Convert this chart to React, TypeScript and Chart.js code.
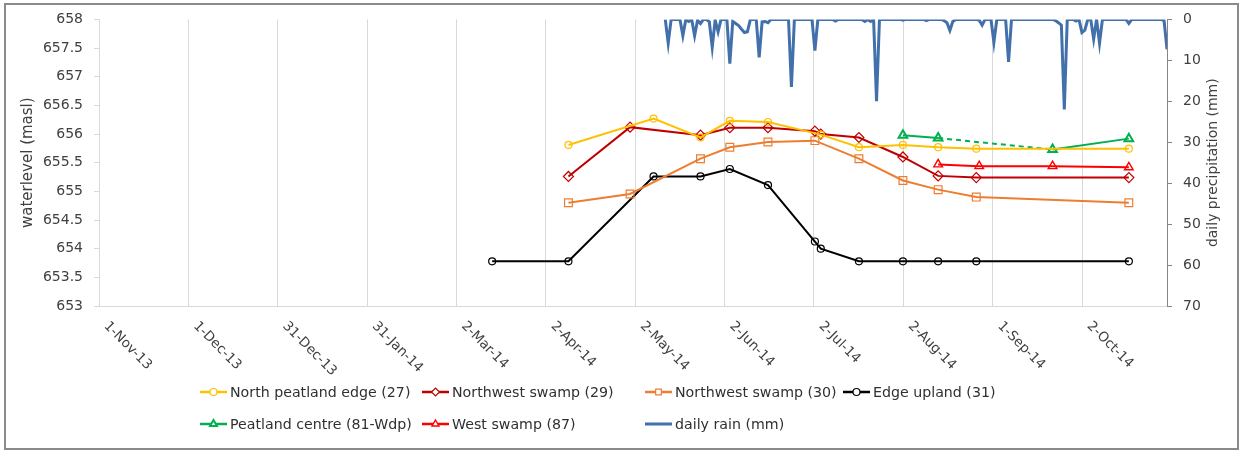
import { useEffect, useRef } from 'react';
import { Chart, registerables } from 'chart.js';

Chart.register(...registerables);

const FONT = '"DejaVu Sans", sans-serif';
const TEXT = '#404040';

// Date axis: positions are days counted from the first day shown.
const axisStart = '2013-11-01';
const axisEndDays = 364;
const majorUnitDays = 30.46;
const tickLabels = [
  '1-Nov-13', '1-Dec-13', '31-Dec-13', '31-Jan-14', '2-Mar-14', '2-Apr-14',
  '2-May-14', '2-Jun-14', '2-Jul-14', '2-Aug-14', '1-Sep-14', '2-Oct-14',
];

// Water levels (masl)
const northEdgeDates = ['2014-04-10', '2014-05-09', '2014-05-25', '2014-06-04', '2014-06-17', '2014-07-05', '2014-07-18', '2014-08-02', '2014-08-14', '2014-08-27', '2014-10-18'];
const northEdgeLevels = [655.81, 656.27, 655.94, 656.23, 656.21, 655.99, 655.77, 655.81, 655.77, 655.745, 655.745];

const nwSwamp29Dates = ['2014-04-10', '2014-05-01', '2014-05-25', '2014-06-04', '2014-06-17', '2014-07-03', '2014-07-05', '2014-07-18', '2014-08-02', '2014-08-14', '2014-08-27', '2014-10-18'];
const nwSwamp29Levels = [655.26, 656.12, 655.98, 656.11, 656.11, 656.05, 656.0, 655.94, 655.6, 655.27, 655.24, 655.24];

const nwSwamp30Dates = ['2014-04-10', '2014-05-01', '2014-05-25', '2014-06-04', '2014-06-17', '2014-07-03', '2014-07-18', '2014-08-02', '2014-08-14', '2014-08-27', '2014-10-18'];
const nwSwamp30Levels = [654.8, 654.955, 655.57, 655.77, 655.86, 655.885, 655.57, 655.19, 655.03, 654.9, 654.8];

const edgeUplandDates = ['2014-03-15', '2014-04-10', '2014-05-09', '2014-05-25', '2014-06-04', '2014-06-17', '2014-07-03', '2014-07-05', '2014-07-18', '2014-08-02', '2014-08-14', '2014-08-27', '2014-10-18'];
const edgeUplandLevels = [653.78, 653.78, 655.26, 655.26, 655.39, 655.11, 654.125, 654.0, 653.78, 653.78, 653.78, 653.78, 653.78];

const peatCentreDates = ['2014-08-02', '2014-08-14', '2014-09-22', '2014-10-18'];
const peatCentreLevels = [655.98, 655.93, 655.73, 655.92];

const westSwampDates = ['2014-08-14', '2014-08-28', '2014-09-22', '2014-10-18'];
const westSwampLevels = [655.47, 655.44, 655.44, 655.42];

// Daily precipitation (mm), one value per day from rainStart
const rainStart = '2014-05-13';
const dailyRain = [
  0, 5.8, 0, 0, 0, 0, 4.0, 0, 0.5, 0,
  4.0, 0.2, 1.0, 0, 0, 0.6, 6.8, 0.2, 3.0, 0,
  0, 0, 10.8, 0.5, 1.0, 1.5, 2.4, 3.2, 3.0, 0,
  0, 0, 9.3, 0.6, 0.5, 0.8, 0, 0, 0, 0,
  0, 0, 0, 16.5, 0, 0, 0, 0, 0, 0,
  0, 7.6, 0, 0, 0, 0, 0, 0, 0.4, 0,
  0, 0, 0, 0, 0, 0, 0, 0, 0.5, 0,
  0.5, 0, 20.0, 0, 0, 0, 0, 0, 0, 0,
  0, 0.2, 0, 0, 0, 0, 0, 0, 0, 0.3,
  0, 0, 0, 0, 0, 0.3, 0.8, 2.7, 0.5, 0,
  0, 0, 0, 0, 0, 0, 0, 0.2, 1.4, 0,
  0, 0, 5.6, 0, 0, 0, 0, 10.4, 0, 0,
  0, 0, 0, 0, 0, 0, 0, 0, 0, 0,
  0, 0, 0, 0.3, 0.8, 1.4, 22.0, 0, 0, 0,
  0.4, 0, 3.2, 2.6, 0, 0, 4.8, 0, 5.8, 0,
  0, 0, 0, 0, 0, 0, 0, 0, 1.0, 0,
  0, 0, 0, 0, 0, 0, 0, 0, 0, 0,
  0.3, 7.3,
];

const dayOf = (iso: string) => (Date.parse(iso) - Date.parse(axisStart)) / 86400000;
const toPoints = (dates: string[], values: number[]) =>
  dates.map((d, i) => ({ x: dayOf(d), y: values[i] }));

type Marker = 'circle' | 'rectRot' | 'rect' | 'triangle' | 'none';

interface SeriesStyle {
  label: string;
  color: string;
  marker: Marker;
  radius: number;
  markerWidth: number;
  lineWidth: number;
}

const waterSeries: { style: SeriesStyle; dates: string[]; values: number[] }[] = [
  { style: { label: 'North peatland edge (27)', color: '#FFC000', marker: 'circle', radius: 3.5, markerWidth: 1.2, lineWidth: 2 }, dates: northEdgeDates, values: northEdgeLevels },
  { style: { label: 'Northwest swamp (29)', color: '#C00000', marker: 'rectRot', radius: 5, markerWidth: 1.2, lineWidth: 2 }, dates: nwSwamp29Dates, values: nwSwamp29Levels },
  { style: { label: 'Northwest swamp (30)', color: '#ED7D31', marker: 'rect', radius: 5.5, markerWidth: 1.2, lineWidth: 2 }, dates: nwSwamp30Dates, values: nwSwamp30Levels },
  { style: { label: 'Edge upland (31)', color: '#000000', marker: 'circle', radius: 3.5, markerWidth: 1.2, lineWidth: 2 }, dates: edgeUplandDates, values: edgeUplandLevels },
  { style: { label: 'Peatland centre (81-Wdp)', color: '#00B050', marker: 'triangle', radius: 5, markerWidth: 2, lineWidth: 2 }, dates: peatCentreDates, values: peatCentreLevels },
  { style: { label: 'West swamp (87)', color: '#FF0000', marker: 'triangle', radius: 5, markerWidth: 1.4, lineWidth: 2 }, dates: westSwampDates, values: westSwampLevels },
];

const rainStyle: SeriesStyle = { label: 'daily rain (mm)', color: '#4170AB', marker: 'none', radius: 0, markerWidth: 0, lineWidth: 3 };

// legend grid: [column x, row y] for each entry
const legendSlots: [number, number][] = [
  [200, 392], [422, 392], [645, 392], [843, 392],
  [200, 424], [422, 424], [645, 424],
];

function drawMarker(ctx: CanvasRenderingContext2D, s: SeriesStyle, x: number, y: number, r: number) {
  if (s.marker === 'none') return;
  ctx.beginPath();
  if (s.marker === 'circle') {
    ctx.arc(x, y, r, 0, Math.PI * 2);
  } else if (s.marker === 'rectRot') {
    ctx.moveTo(x - r, y); ctx.lineTo(x, y - r); ctx.lineTo(x + r, y); ctx.lineTo(x, y + r);
    ctx.closePath();
  } else if (s.marker === 'rect') {
    const h = Math.SQRT1_2 * r;
    ctx.rect(x - h, y - h, 2 * h, 2 * h);
  } else if (s.marker === 'triangle') {
    ctx.moveTo(x, y - r);
    ctx.lineTo(x + 0.866 * r, y + 0.5 * r);
    ctx.lineTo(x - 0.866 * r, y + 0.5 * r);
    ctx.closePath();
  }
  ctx.fillStyle = '#ffffff';
  ctx.fill();
  ctx.lineWidth = s.markerWidth;
  ctx.strokeStyle = s.color;
  ctx.stroke();
}

const decorPlugin = {
  id: 'decor',
  afterDraw(chart: Chart) {
    const ctx = chart.ctx;
    const xs = chart.scales.x;
    const area = chart.chartArea;
    ctx.save();

    // outer frame
    ctx.strokeStyle = '#8a8a8a';
    ctx.lineWidth = 2;
    ctx.strokeRect(5, 4, 1233, 445);

    // date labels, slanted downwards
    ctx.fillStyle = TEXT;
    ctx.font = `13.5px ${FONT}`;
    ctx.textAlign = 'left';
    ctx.textBaseline = 'middle';
    tickLabels.forEach((lab, i) => {
      const px = xs.getPixelForValue(i * majorUnitDays);
      ctx.save();
      ctx.translate(px + 7, area.bottom + 18);
      ctx.rotate(Math.PI / 4);
      ctx.fillText(lab, 0, 0);
      ctx.restore();
    });

    // axis titles
    ctx.textAlign = 'center';
    const midY = (area.top + area.bottom) / 2;
    ctx.font = `15px ${FONT}`;
    ctx.save();
    ctx.translate(28, midY);
    ctx.rotate(-Math.PI / 2);
    ctx.fillText('waterlevel (masl)', 0, 0);
    ctx.restore();
    ctx.font = `14px ${FONT}`;
    ctx.save();
    ctx.translate(1213, midY);
    ctx.rotate(-Math.PI / 2);
    ctx.fillText('daily precipitation (mm)', 0, 0);
    ctx.restore();

    // legend
    const styles = [...waterSeries.map((s) => s.style), rainStyle];
    ctx.font = `14.2px ${FONT}`;
    ctx.textAlign = 'left';
    styles.forEach((s, i) => {
      const [lx, ly] = legendSlots[i];
      ctx.beginPath();
      ctx.moveTo(lx, ly);
      ctx.lineTo(lx + 27, ly);
      ctx.strokeStyle = s.color;
      ctx.lineWidth = s.marker === 'none' ? 3 : 2.5;
      ctx.setLineDash([]);
      ctx.stroke();
      drawMarker(ctx, s, lx + 13.5, ly, Math.min(s.radius, 4));
      ctx.fillStyle = '#303030';
      ctx.textBaseline = 'middle';
      ctx.fillText(s.label, lx + 30, ly + 1);
    });

    ctx.restore();
  },
};

export default function App() {
  const canvasRef = useRef<HTMLCanvasElement | null>(null);

  useEffect(() => {
    const canvas = canvasRef.current;
    if (!canvas) return;

    const waterSets = waterSeries.map((s, idx) => ({
      type: 'line' as const,
      label: s.style.label,
      data: toPoints(s.dates, s.values),
      yAxisID: 'y',
      borderColor: s.style.color,
      backgroundColor: 'rgba(255,255,255,0)',
      borderWidth: s.style.lineWidth,
      pointStyle: s.style.marker as any,
      pointRadius: s.style.radius,
      pointBorderWidth: s.style.markerWidth,
      pointBorderColor: s.style.color,
      pointBackgroundColor: 'rgba(255,255,255,0)',
      tension: 0,
      order: idx,
      segment: idx === 4
        ? { borderDash: (c: any) => (c.p0DataIndex === 1 ? [5, 4] : undefined) }
        : undefined,
    }));

    const rainSet = {
      type: 'line' as const,
      label: rainStyle.label,
      data: dailyRain.map((v, i) => ({ x: dayOf(rainStart) + i, y: v })),
      yAxisID: 'rain',
      borderColor: rainStyle.color,
      backgroundColor: rainStyle.color,
      borderWidth: rainStyle.lineWidth,
      pointRadius: 0,
      tension: 0,
      order: 10,
    };

    const chart = new Chart(canvas, {
      type: 'line',
      data: { datasets: [...waterSets, rainSet] as any },
      options: {
        responsive: false,
        animation: false,
        events: [],
        layout: { padding: { top: 17, left: 0, right: 0, bottom: 0 } },
        plugins: { legend: { display: false }, tooltip: { enabled: false } },
        scales: {
          x: {
            type: 'linear',
            min: 0,
            max: axisEndDays,
            afterBuildTicks: (s: any) => {
              s.ticks = tickLabels.map((_, i) => ({ value: i * majorUnitDays }));
            },
            ticks: { display: false },
            grid: { color: '#d9d9d9', lineWidth: 1, drawTicks: false },
            border: { color: '#d9d9d9' },
            afterFit: (s: any) => { s.height = 146; },
          },
          y: {
            position: 'left',
            min: 653,
            max: 658,
            ticks: {
              stepSize: 0.5,
              color: TEXT,
              padding: 11,
              font: { family: FONT, size: 14 },
              callback: (v: any) => String(Number(v)),
            },
            grid: { drawOnChartArea: false, tickLength: 5, color: '#d9d9d9' },
            border: { color: '#d9d9d9' },
            afterFit: (s: any) => { s.width = 99; },
          },
          rain: {
            position: 'right',
            reverse: true,
            min: 0,
            max: 70,
            ticks: {
              stepSize: 10,
              color: TEXT,
              padding: 11,
              font: { family: FONT, size: 14 },
              callback: (v: any) => String(Number(v)),
            },
            grid: { drawOnChartArea: false, tickLength: 5, color: '#868686' },
            border: { color: '#868686' },
            afterFit: (s: any) => { s.width = 72; },
          },
        },
      },
      plugins: [decorPlugin],
    });

    return () => chart.destroy();
  }, []);

  return (
    <div style={{ position: 'absolute', left: 0, top: 0, width: 1239, height: 452, background: '#fff' }}>
      <canvas ref={canvasRef} width={1239} height={452} style={{ display: 'block' }} />
    </div>
  );
}
